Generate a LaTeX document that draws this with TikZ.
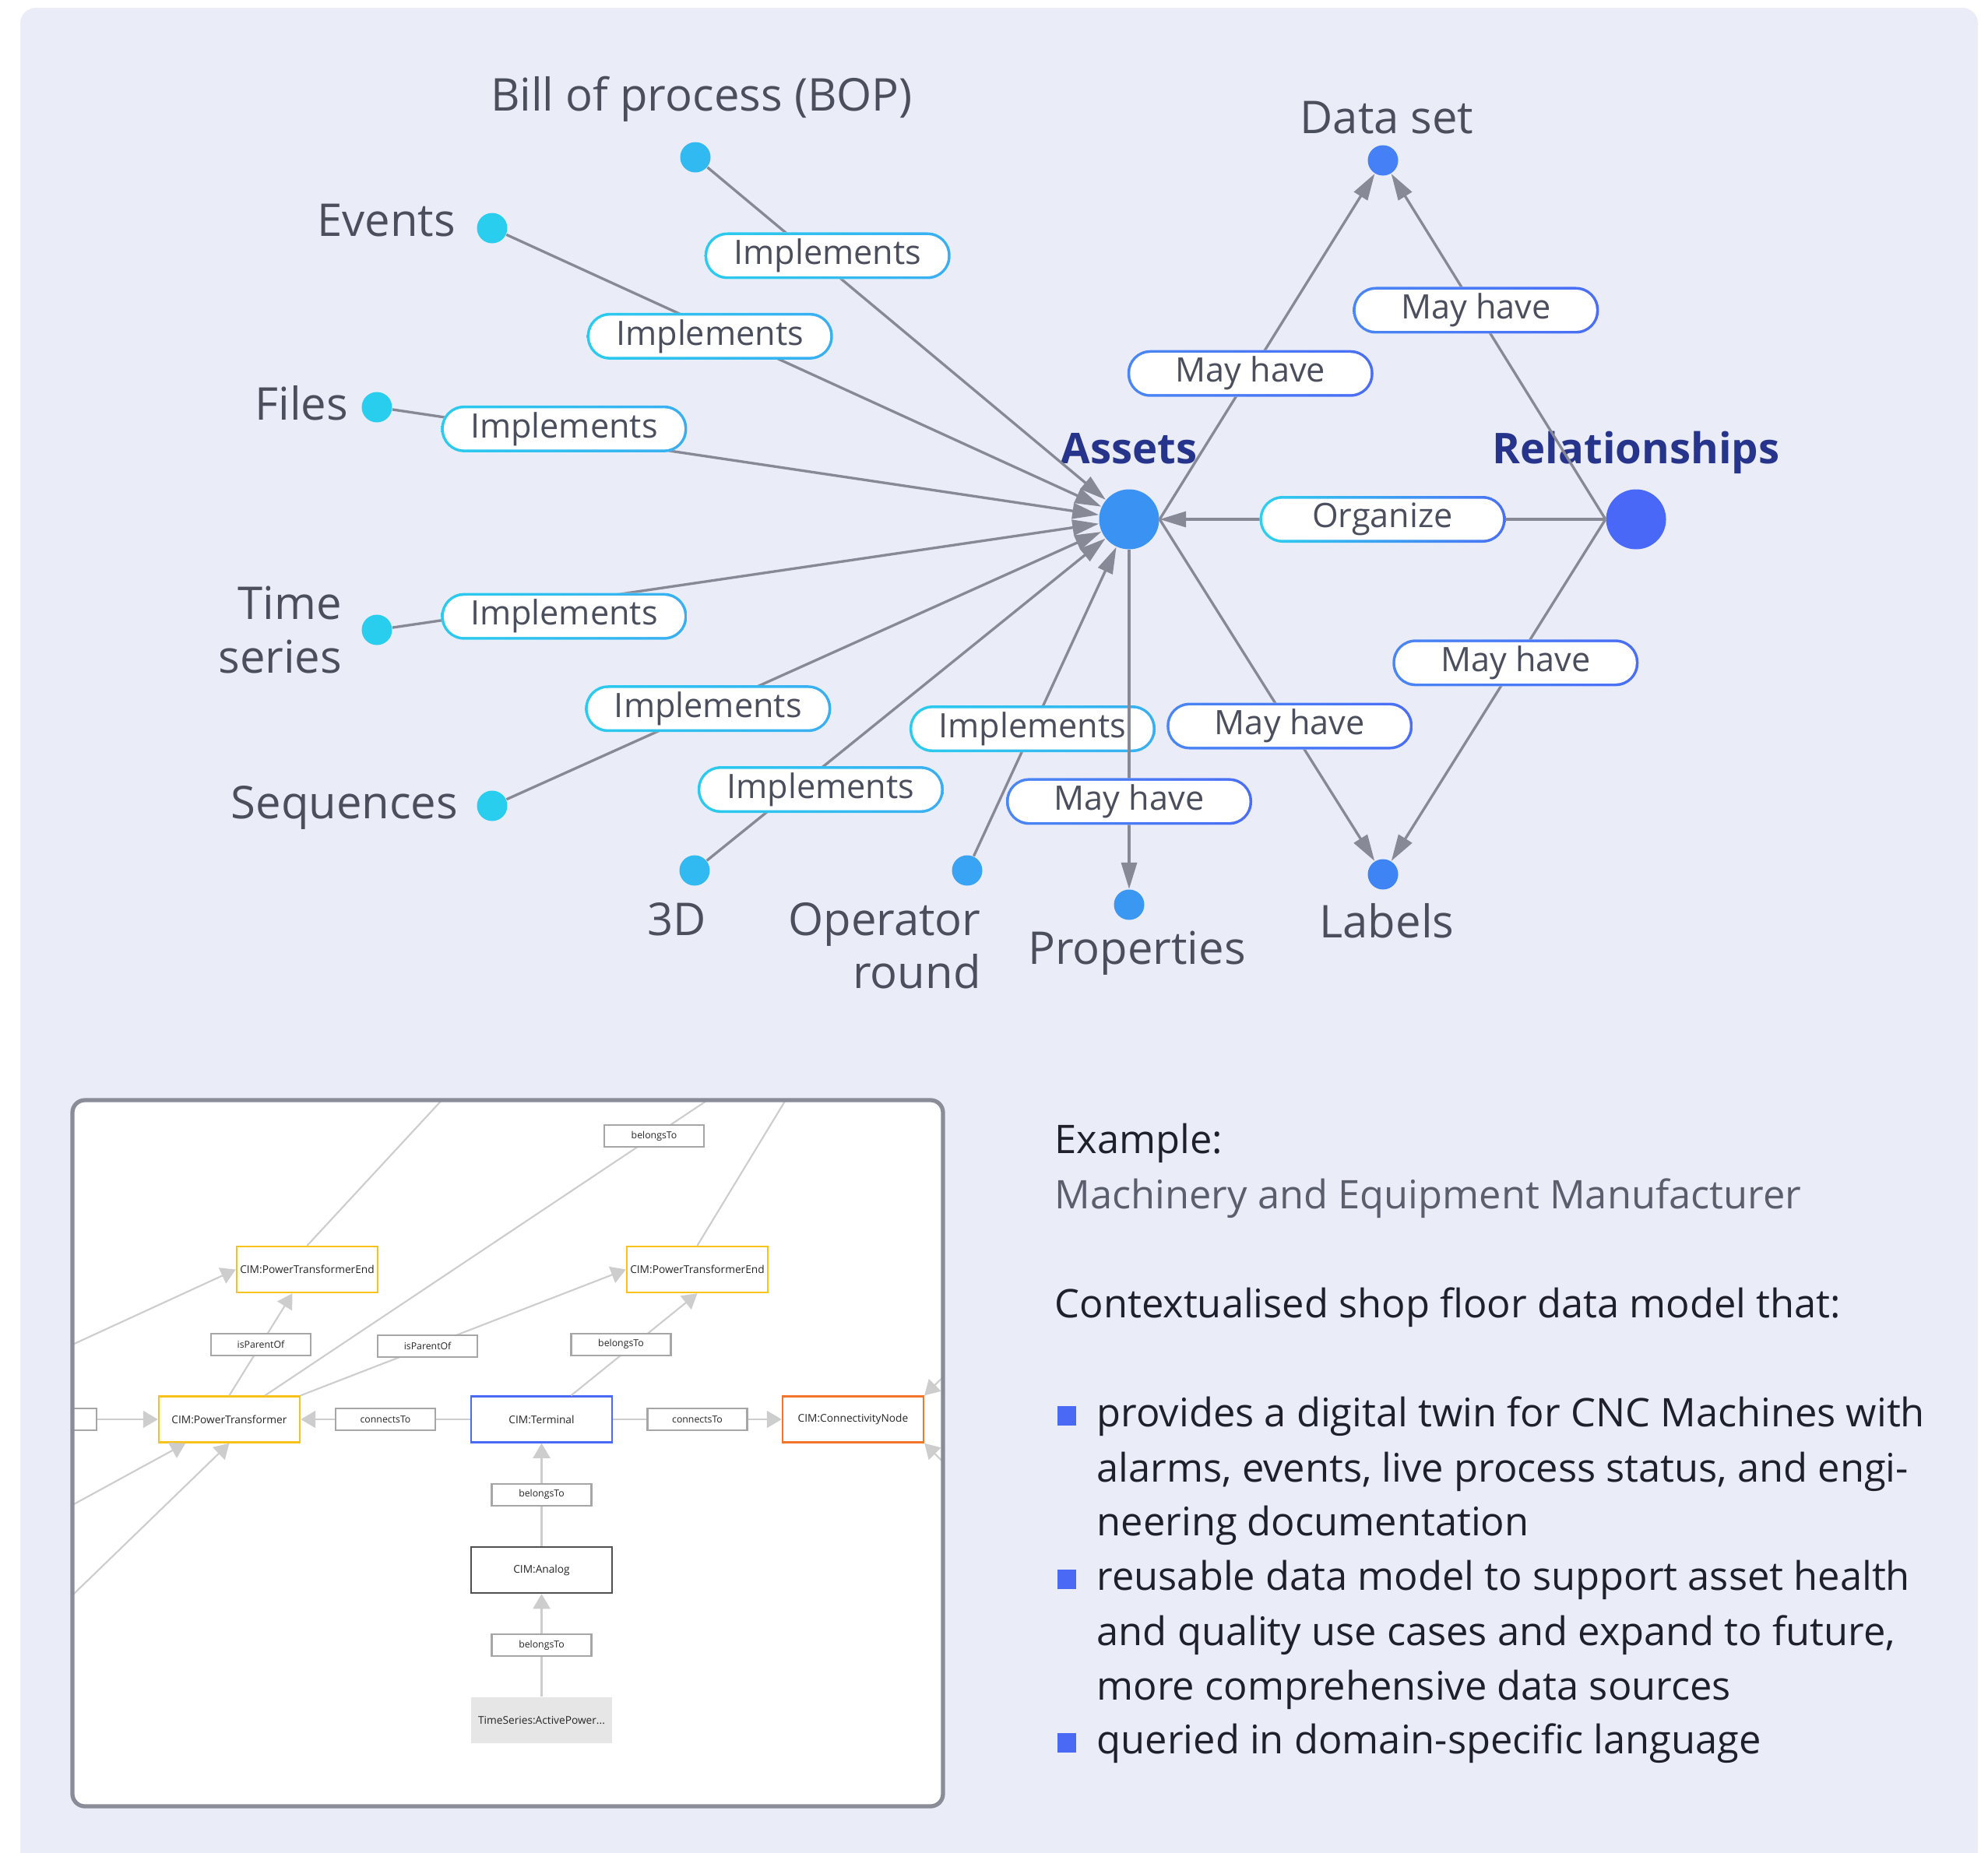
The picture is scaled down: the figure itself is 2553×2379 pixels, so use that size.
\documentclass[tikz,border=0pt]{standalone}
\usepackage{fontspec}
\setmainfont{Open Sans}
\usetikzlibrary{arrows.meta,positioning}

\definecolor{bgC}{HTML}{EAEDF8}
\definecolor{txtC}{HTML}{4B4E5C}
\definecolor{navyC}{HTML}{26348C}
\definecolor{lineC}{HTML}{878A96}
\definecolor{cyanC}{HTML}{29CDEE}
\definecolor{skyC}{HTML}{31B9F1}
\definecolor{opC}{HTML}{39A3F4}
\definecolor{propC}{HTML}{3A98F2}
\definecolor{assetC}{HTML}{3A92F2}
\definecolor{dsetC}{HTML}{4680F6}
\definecolor{lblsC}{HTML}{3F84F4}
\definecolor{relC}{HTML}{4A68F7}
\definecolor{implA}{HTML}{2ACBEE}
\definecolor{implB}{HTML}{3AAEF2}
\definecolor{mayA}{HTML}{4A86F4}
\definecolor{mayB}{HTML}{4A6EF5}
\definecolor{orgA}{HTML}{2DD0EE}
\definecolor{orgB}{HTML}{4A70F5}
\definecolor{frameC}{HTML}{8A8C98}
\definecolor{edgeC}{HTML}{CDCDCD}
\definecolor{yelC}{HTML}{F8C21A}
\definecolor{bluC}{HTML}{4A6AF5}
\definecolor{oraC}{HTML}{F4742B}
\definecolor{darkC}{HTML}{505050}
\definecolor{tsC}{HTML}{E6E6E6}
\definecolor{relbC}{HTML}{A6A6A6}
\definecolor{inkC}{HTML}{1F2029}
\definecolor{greyC}{HTML}{5B5E6D}
\definecolor{bulC}{HTML}{4A6AF5}

\tikzset{
  pill/.style 2 args={rectangle,rounded corners=2.95mm,minimum width=31.6mm,
    minimum height=6mm,inner sep=0pt,fill=white,text=txtC,
    font=\fontsize{12.3}{14}\selectfont,
    path picture={
      \shade[left color=#1,right color=#2] (path picture bounding box.south west)
        rectangle (path picture bounding box.north east);
      \fill[white,rounded corners=2.6mm]
        ([shift={(1pt,1pt)}]path picture bounding box.south west)
        rectangle ([shift={(-1pt,-1pt)}]path picture bounding box.north east);
    }},
  impl/.style={pill={implA}{implB}},
  mayh/.style={pill={mayA}{mayB}},
}

\begin{document}
\begin{tikzpicture}[x=0.1mm,y=-0.1mm]
    \tikzstyle{dot}=[circle,inner sep=0pt,minimum size=3.9mm]
    \tikzstyle{hub}=[circle,inner sep=0pt,minimum size=7.7mm]
    \tikzstyle{lbl}=[font=\fontsize{16.5}{19.4}\selectfont,text=txtC,inner sep=0pt]
    \tikzstyle{one}=[text height=4.5mm,text depth=1.3mm]
    \tikzstyle{big}=[font=\fontsize{15.5}{18}\selectfont\bfseries,text=navyC]
    \tikzstyle{body}=[font=\fontsize{14.4}{17}\selectfont,text=inkC,inner sep=0pt,anchor=base west]
    \tikzstyle{cim}=[rectangle,minimum width=18.1mm,minimum height=5.9mm,inner sep=0pt,
      fill=white,line width=0.7pt,text=black!85,font=\fontsize{3.9}{4.5}\selectfont]
    \tikzstyle{rel}=[rectangle,minimum width=12.8mm,minimum height=2.8mm,inner sep=0pt,
      draw=relbC,line width=0.6pt,fill=white,text=black!85,font=\fontsize{3.5}{4}\selectfont]

    \useasboundingbox (0,0) rectangle (2553,2379);
    \clip (0,0) rectangle (2553,2379);
    \fill[white] (0,0) rectangle (2553,2379);
    \fill[bgC,rounded corners=2mm] (26,10) rectangle (2540,2420);

    % data model
    \node[hub,fill=assetC] (assets) at (1450,667) {};
    \node[hub,fill=relC]   (rel)    at (2101,667) {};
    \node[dot,fill=skyC]   (bop)    at (893,202)  {};
    \node[dot,fill=cyanC]  (events) at (632,293)  {};
    \node[dot,fill=cyanC]  (files)  at (484,523)  {};
    \node[dot,fill=cyanC]  (ts)     at (484,809)  {};
    \node[dot,fill=cyanC]  (seq)    at (632,1035) {};
    \node[dot,fill=skyC]   (d3)     at (892,1118) {};
    \node[dot,fill=opC]    (opr)    at (1242,1118) {};
    \node[dot,fill=propC]  (prop)   at (1450,1162) {};
    \node[dot,fill=lblsC]  (labels) at (1776,1123) {};
    \node[dot,fill=dsetC]  (dset)   at (1776,206) {};

    \node[lbl,one,above=2.6mm of bop,xshift=0.8mm] (bopL) {Bill of process (BOP)};
    \node[lbl,one,left=2.6mm of events,yshift=0.6mm] (eventsL) {Events};
    \node[lbl,one,left=1.6mm of files] (filesL) {Files};
    \node[lbl,left=2.4mm of ts,align=right] (tsL) {Time\\series};
    \node[lbl,one,left=2.3mm of seq] (seqL) {Sequences};
    \node[lbl,one,below=1.8mm of d3,xshift=-2.3mm] (d3L) {3D};
    \node[lbl,align=right,anchor=north east] (oprL) at ([xshift=0.4mm,yshift=-2.6mm]opr.south east) {Operator\\round};
    \node[lbl,one,below=1.1mm of prop,xshift=1mm] (propL) {Properties};
    \node[lbl,one,below=1.6mm of labels,xshift=0.5mm] (labelsL) {Labels};
    \node[lbl,one,above=0.1mm of dset,xshift=0.5mm] (dsetL) {Data set};
    \node[lbl,one,big,above=1.9mm of assets] (assetsL) {Assets};
    \node[lbl,one,big,above=1.9mm of rel] (relL) {Relationships};

    \path[-{Triangle[length=3.4mm,width=2mm]},color=lineC,line width=0.95pt]
    (bop)    edge node[impl,pos=0.28,xshift=1.1mm,yshift=0.6mm] {Implements} (assets)
    (events) edge node[impl,pos=0.342,yshift=-1.1mm] {Implements} (assets)
    (files)  edge node[impl,pos=0.243,yshift=0.8mm] {Implements} (assets)
    (ts)     edge node[impl,pos=0.243,yshift=-1.8mm] {Implements} (assets)
    (seq)    edge node[impl,pos=0.339] {Implements} (assets)
    (d3)     edge node[impl,pos=0.264,xshift=1.1mm,yshift=-1.8mm] {Implements} (assets)
    (opr)    edge node[impl,pos=0.412] {Implements} (assets)
    (assets) edge node[mayh,pos=0.742] {May have} (prop)
    (assets.east) edge node[mayh,pos=0.605] {May have} (labels)
    (rel.west)    edge node[mayh,pos=0.42]  {May have} (labels)
    (assets.east) edge node[mayh,pos=0.422] {May have} (dset)
    (rel.west)    edge node[mayh,pos=0.605] {May have} (dset)
    (rel.west)    edge node[pill={orgA}{orgB},pos=0.5] {Organize} (assets);

    % example graph
    \begin{scope}
    \clip[rounded corners=1.6mm] (93,1413) rectangle (1211,2320);
    \fill[white] (93,1413) rectangle (1211,2320);
    \node[cim,draw=yelC]  (pte1)   at (394.5,1630.5) {CIM:PowerTransformerEnd};
    \node[cim,draw=yelC]  (pte2)   at (895.5,1630.5) {CIM:PowerTransformerEnd};
    \node[cim,draw=yelC]  (ptr)    at (294.5,1823)   {CIM:PowerTransformer};
    \node[cim,draw=bluC]  (term)   at (695.5,1823)   {CIM:Terminal};
    \node[cim,draw=oraC]  (cnode)  at (1095.5,1823)  {CIM:ConnectivityNode};
    \node[cim,draw=darkC] (analog) at (695.5,2016.5) {CIM:Analog};
    \node[cim,fill=tsC]   (tser)   at (695.5,2209.5) {TimeSeries:ActivePower...};
    \node[rel] (stub) at (60,1823) {};
    \coordinate (o1) at (621,1355);
    \coordinate (o2) at (985,1362);
    \coordinate (o3) at (1044,1355);
    \coordinate (o4) at (30,1756);
    \coordinate (o5) at (49,1957);
    \coordinate (o6) at (33,2107);
    \coordinate (o7) at (1240,1740);
    \coordinate (o8) at (1240,1907);
    \path[-{Triangle[length=1.9mm,width=2.2mm]},color=edgeC,line width=0.6pt]
    (o1) edge[-] (pte1.north)
    (o2) edge[-] node[rel,pos=0.225] {belongsTo} (ptr)
    (o3) edge[-] (pte2.north)
    (o4) edge (pte1.west)
    (ptr.north) edge node[rel] {isParentOf} (pte1)
    (ptr.north east) edge node[rel,pos=0.39] {isParentOf} (pte2.west)
    (term) edge node[rel,xshift=-1.7mm] {belongsTo} (pte2.south)
    (term) edge node[rel] {connectsTo} (ptr)
    (term) edge node[rel] {connectsTo} (cnode)
    (stub) edge (ptr)
    (o5) edge (ptr)
    (o6) edge (ptr.south)
    (o7) edge (cnode.north east)
    (o8) edge (cnode.south east)
    (analog) edge node[rel] {belongsTo} (term)
    (tser) edge node[rel] {belongsTo} (analog);
    \end{scope}
    \draw[frameC,line width=1.5pt,rounded corners=1.6mm] (93,1413) rectangle (1211,2320);

    % description
    \node[body] (exT) at (1354,1481) {Example:};
    \node[body,text=greyC] (mfT) at (1354,1552) {Machinery and Equipment Manufacturer};
    \node[body] (ctxT) at (1354,1692) {Contextualised shop floor data model that:};
    \foreach \yy in {1806,2016,2226}
      \fill[bulC] (1358,\yy) rectangle ++(24,25);
    \foreach \yy/\ln [count=\i] in {1832/{provides a digital twin for CNC Machines with},
        1903/{alarms, events, live process status, and engi-},
        1972/{neering documentation},
        2042/{reusable data model to support asset health},
        2113/{and quality use cases and expand to future,},
        2183/{more comprehensive data sources},
        2252/{queried in domain-specific language}}
      \node[body] (line\i) at (1408,\yy) {\ln};
\end{tikzpicture}
\end{document}
